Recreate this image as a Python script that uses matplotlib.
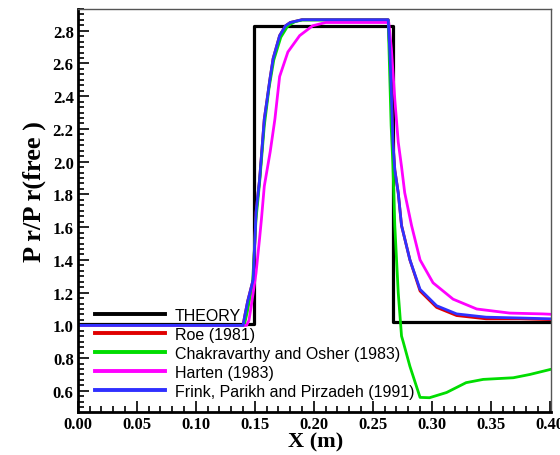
import matplotlib
matplotlib.use("Agg")
import matplotlib.pyplot as plt
from matplotlib.ticker import MultipleLocator

# ==========================================
# Data
# ==========================================
theory_x = [0.0, 0.149, 0.149, 0.267, 0.267, 0.40]
theory_y = [1.01, 1.01, 2.83, 2.83, 1.02, 1.02]

frink_x = [0.0, 0.140, 0.1415, 0.144, 0.1486, 0.151, 0.154, 0.158, 0.160, 0.1627,
           0.1655, 0.171, 0.176, 0.180, 0.190, 0.263, 0.2644, 0.2657, 0.267, 0.2686,
           0.2715, 0.2743, 0.2814, 0.290, 0.304, 0.321, 0.346, 0.375, 0.40]
frink_y = [1.0, 1.0, 1.06, 1.15, 1.28, 1.69, 1.89, 2.26, 2.36, 2.50,
           2.63, 2.77, 2.83, 2.85, 2.867, 2.867, 2.67, 2.42, 2.12, 1.95,
           1.81, 1.61, 1.40, 1.22, 1.12, 1.07, 1.05, 1.045, 1.04]

roe_x = frink_x
roe_y = [1.0, 1.0, 1.06, 1.15, 1.28, 1.69, 1.89, 2.26, 2.36, 2.50,
         2.63, 2.77, 2.83, 2.85, 2.867, 2.867, 2.67, 2.42, 2.12, 1.95,
         1.81, 1.61, 1.40, 1.21, 1.11, 1.06, 1.04, 1.04, 1.035]

chak_x = [0.0, 0.141, 0.1435, 0.148, 0.151, 0.154, 0.158, 0.162, 0.166, 0.172,
          0.178, 0.184, 0.190, 0.263, 0.2655, 0.267, 0.2686, 0.2715, 0.2743, 0.2757,
          0.2814, 0.290, 0.298, 0.3125, 0.329, 0.3435, 0.369, 0.383, 0.40]
chak_y = [1.0, 1.0, 1.08, 1.25, 1.65, 1.87, 2.22, 2.45, 2.62, 2.76,
          2.83, 2.855, 2.865, 2.865, 2.22, 1.98, 1.61, 1.20, 0.935, 0.90,
          0.75, 0.56, 0.558, 0.59, 0.65, 0.67, 0.68, 0.70, 0.73]

harten_x = [0.0, 0.143, 0.145, 0.147, 0.151, 0.154, 0.1556, 0.158, 0.163, 0.167,
            0.171, 0.178, 0.188, 0.199, 0.210, 0.2635, 0.2657, 0.2686, 0.2715, 0.2743,
            0.277, 0.2828, 0.290, 0.301, 0.318, 0.338, 0.366, 0.394, 0.40]
harten_y = [1.0, 1.0, 1.03, 1.12, 1.32, 1.53, 1.65, 1.85, 2.06, 2.26,
            2.52, 2.67, 2.77, 2.83, 2.85, 2.85, 2.69, 2.38, 2.12, 1.97,
            1.81, 1.61, 1.40, 1.26, 1.16, 1.10, 1.075, 1.07, 1.068]

labels = ["THEORY", "Roe (1981)", "Chakravarthy and Osher (1983)",
          "Harten (1983)", "Frink, Parikh and Pirzadeh (1991)"]

# ==========================================
# Plot
# ==========================================
fig = plt.figure(figsize=(5.6, 4.56), dpi=100)
ax = fig.add_axes([0.139, 0.094, 0.845, 0.885])

ax.plot(theory_x, theory_y, color="black", lw=2.3, label=labels[0])
ax.plot(roe_x, roe_y, color="#e00000", lw=2.0, label=labels[1])
ax.plot(chak_x, chak_y, color="#00dd00", lw=2.0, label=labels[2])
ax.plot(harten_x, harten_y, color="#ff00ff", lw=2.0, label=labels[3])
ax.plot(frink_x, frink_y, color="#3030ff", lw=2.0, label=labels[4])

ax.set_xlim(0.0, 0.401)
ax.set_ylim(0.47, 2.935)

ax.xaxis.set_major_locator(MultipleLocator(0.05))
ax.xaxis.set_minor_locator(MultipleLocator(0.01))
ax.yaxis.set_major_locator(MultipleLocator(0.2))
ax.yaxis.set_minor_locator(MultipleLocator(0.2 / 6))
ax.xaxis.set_major_formatter(plt.FuncFormatter(lambda v, p: f"{v:.2f}"))
ax.yaxis.set_major_formatter(plt.FuncFormatter(lambda v, p: f"{v:.1f}"))

ax.tick_params(which="both", direction="in", top=False, right=False, width=1.2)
ax.tick_params(which="major", length=8, pad=3)
ax.tick_params(which="minor", length=4)
for lab in ax.get_xticklabels() + ax.get_yticklabels():
    lab.set_fontfamily("Liberation Serif")
    lab.set_fontweight("bold")
    lab.set_fontsize(12)

for s in ["left", "bottom"]:
    ax.spines[s].set_linewidth(2.0)
    ax.spines[s].set_color("black")
for s in ["top", "right"]:
    ax.spines[s].set_linewidth(1.0)
    ax.spines[s].set_color("#555555")

ax.set_xlabel("X (m)", family="Liberation Serif", weight="bold", fontsize=16)
ax.set_ylabel("P r/P r(free )", family="Liberation Serif", weight="bold", fontsize=19)
ax.xaxis.set_label_coords(0.503, -0.047)
ax.yaxis.set_label_coords(-0.068, 0.55)

leg = ax.legend(loc="lower left", bbox_to_anchor=(0.036, 0.033), frameon=False,
                borderpad=0, borderaxespad=0, handlelength=4.4, handletextpad=0.6,
                labelspacing=0.25, prop={"family": "Liberation Sans", "size": 11.5})
for line in leg.get_lines():
    line.set_linewidth(2.8)

fig.savefig("out.png", dpi=100)
